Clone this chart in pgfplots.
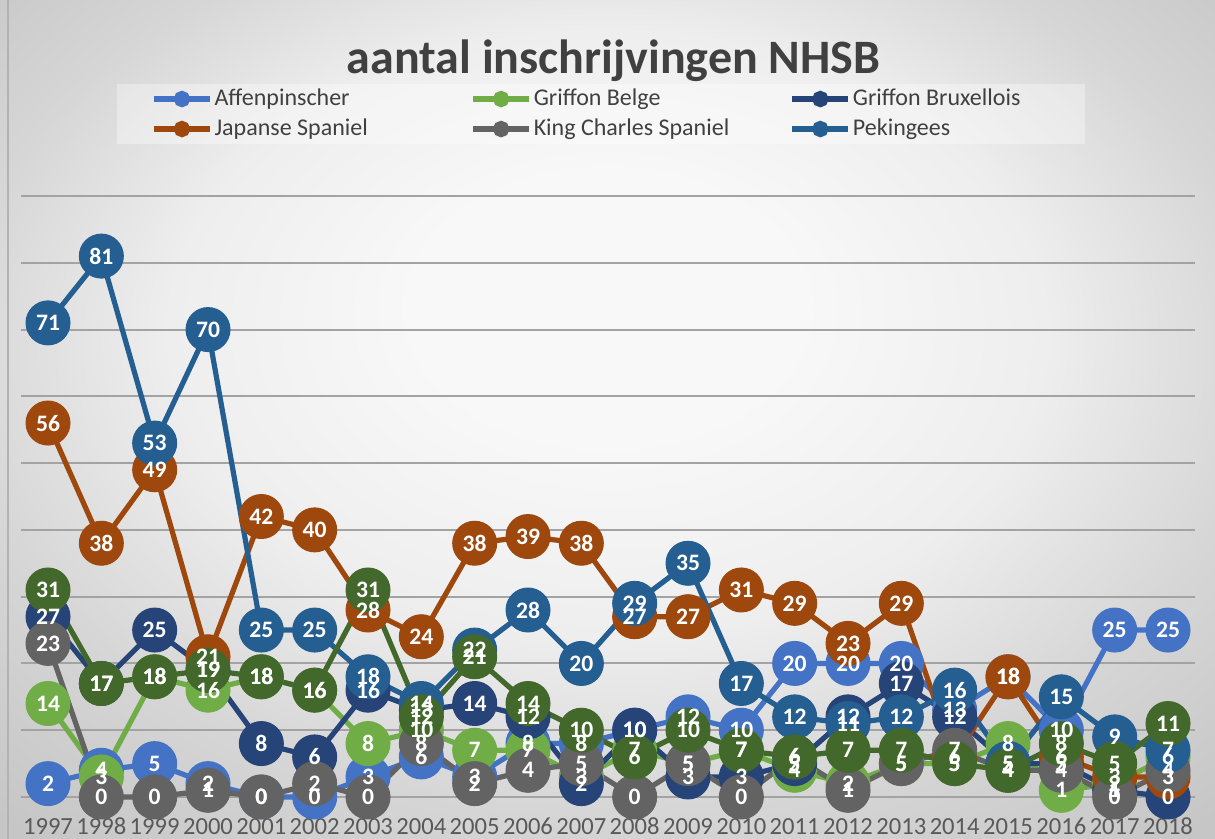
\documentclass[border=0pt]{standalone}
\usepackage{pgfplots}
\pgfplotsset{compat=1.18}
\usepackage{pgfplotstable}
\usepackage{fontspec}
\setmainfont{Carlito}
\definecolor{cAff}{HTML}{4472C4}
\definecolor{cGB}{HTML}{70AD47}
\definecolor{cGBr}{HTML}{264478}
\definecolor{cJS}{HTML}{9E480E}
\definecolor{cKCS}{HTML}{636363}
\definecolor{cPek}{HTML}{255E91}
\definecolor{cDG}{HTML}{43682B}
\definecolor{txt}{HTML}{404040}
\definecolor{ticktxt}{HTML}{595959}
\definecolor{bgA}{HTML}{F8F8F8}
\definecolor{bgB}{HTML}{EEEEEE}
\definecolor{bgC}{HTML}{D6D6D6}
\definecolor{bgD}{HTML}{C6C6C6}
\pgfdeclareradialshading{bgshade}{\pgfpoint{0bp}{8bp}}{color(0bp)=(bgA); color(8bp)=(bgA); color(18bp)=(bgB); color(27bp)=(bgC); color(36bp)=(bgD); color(50bp)=(bgD)}
\pgfplotstableread{
year Aff GB GBr JS KCS Pek DG
1997 2 14 27 56 23 71 31
1998 4 3 17 38 0 81 17
1999 5 18 25 49 0 53 18
2000 2 16 19 21 1 70 19
2001 0 18 8 42 0 25 18
2002 0 16 6 40 2 25 16
2003 3 8 16 28 0 18 31
2004 6 10 13 24 8 14 12
2005 3 7 14 38 2 22 21
2006 8 7 12 39 4 28 14
2007 8 3 2 38 5 20 10
2008 10 7 10 27 0 29 6
2009 12 5 3 27 5 35 10
2010 10 7 3 31 0 17 7
2011 20 4 5 29 6 12 6
2012 20 2 12 23 1 11 7
2013 20 5 17 29 5 12 7
2014 13 5 12 6 7 16 5
2015 18 8 5 18 4 5 4
2016 10 1 5 6 4 15 8
2017 25 2 1 3 0 9 5
2018 25 6 0 3 4 7 11
}\data
\begin{document}
\begin{tikzpicture}
\useasboundingbox (0pt,0pt) rectangle (607.5pt,419.5pt);
\shade[shading=bgshade] (0pt,0pt) rectangle (607.5pt,419.5pt);
\draw[black!30, line width=0.6pt] (4pt,0pt) -- (4pt,419.5pt);
\node[anchor=base, font=\bfseries\fontsize{24}{28}\selectfont, text=txt] at (306.75pt,382.5pt) {aantal inschrijvingen NHSB};
\begin{axis}[
  at={(10.67pt,21pt)}, anchor=south west,
  scale only axis, width=586.67pt, height=300.5pt,
  xmin=1996.5, xmax=2018.5, ymin=0, ymax=90,
  clip=false,
  axis line style={draw=none},
  tick style={draw=none},
  xtick={1997,1998,...,2018},
  ytick={10,20,...,90},
  yticklabels={},
  ymajorgrids,
  major grid style={black!36, line width=1pt},
  extra y ticks={0}, extra y tick labels={},
  extra y tick style={grid style={black!72, line width=1.6pt}},
  /pgf/number format/.cd, 1000 sep={}, assume math mode=true, /pgfplots/.cd,
  xticklabel style={anchor=base, yshift=-19pt, font=\fontsize{12.3}{14}\selectfont, text=ticktxt},
  ser/.style={color=#1, line width=2.6pt, mark=*, mark size=11pt, mark options={solid, line width=0.5pt}},
  lab/.style={draw=none, mark=none, forget plot, nodes near coords,
     every node near coord/.append style={anchor=center, text=white, inner sep=0pt,
       font=\bfseries\fontsize{11.8}{13}\selectfont}},
  legend columns=3,
  legend image code/.code={
    \draw[#1, line width=2.6pt, mark=none] (0pt,0pt) -- (28pt,0pt);
    \fill[#1] (14pt,0pt) circle (2.8pt);
  },
  legend style={at={(0.0815,1.1364)}, anchor=west, draw=none,
     fill=white, fill opacity=0.35, text opacity=1,
     inner xsep=17pt, inner ysep=0.5pt, column sep=0pt, row sep=1pt,
     font=\fontsize{12}{14}\selectfont, text=txt,
     cells={anchor=west},
     nodes={inner xsep=1pt, inner ysep=1pt, text height=9pt, text depth=3pt}},
]
\addplot[ser=cAff] table[x=year, y=Aff] {\data};
\addlegendentry{\makebox[127pt][l]{Affenpinscher}}
\addplot[ser=cGB] table[x=year, y=GB] {\data};
\addlegendentry{\makebox[127pt][l]{Griffon Belge}}
\addplot[ser=cGBr] table[x=year, y=GBr] {\data};
\addlegendentry{\makebox[98pt][l]{Griffon Bruxellois}}
\addplot[ser=cJS] table[x=year, y=JS] {\data};
\addlegendentry{\makebox[127pt][l]{Japanse Spaniel}}
\addplot[ser=cKCS] table[x=year, y=KCS] {\data};
\addlegendentry{\makebox[127pt][l]{King Charles Spaniel}}
\addplot[ser=cPek] table[x=year, y=Pek] {\data};
\addlegendentry{\makebox[98pt][l]{Pekingees}}
\addplot[ser=cDG, forget plot] table[x=year, y=DG] {\data};
\addplot[lab] table[x=year, y=Aff] {\data};
\addplot[lab] table[x=year, y=GB] {\data};
\addplot[lab] table[x=year, y=GBr] {\data};
\addplot[lab] table[x=year, y=JS] {\data};
\addplot[lab] table[x=year, y=KCS] {\data};
\addplot[lab] table[x=year, y=Pek] {\data};
\addplot[lab] table[x=year, y=DG] {\data};
\end{axis}
\end{tikzpicture}
\end{document}
